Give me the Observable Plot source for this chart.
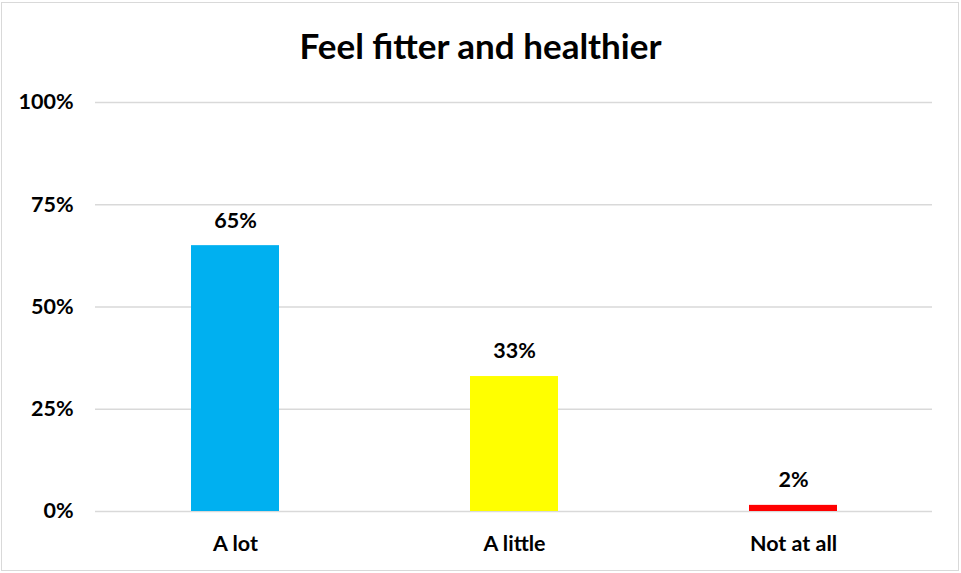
<!DOCTYPE html>
<html>
<head>
<meta charset="utf-8">
<script src="https://cdn.jsdelivr.net/npm/d3@7"></script>
<script src="https://cdn.jsdelivr.net/npm/@observablehq/plot@0.6"></script>
<style>
  html, body { margin: 0; padding: 0; background: #fff; }
  #wrap { position: relative; width: 961px; height: 573px; overflow: hidden; font-family: Lato, "Open Sans", sans-serif; }
  #frame { position: absolute; left: 1px; top: 2px; width: 958px; height: 569px; border: 1px solid #d9d9d9; box-sizing: border-box; }
  #title { position: absolute; left: 0; width: 961px; top: 24px; text-align: center; font-size: 35px; line-height: 1.2; font-weight: bold; color: #000; }
  #chart { position: absolute; left: 0; top: 0; }
</style>
</head>
<body>
<div id="wrap">
  <div id="frame"></div>
  <div id="title">Feel fitter and healthier</div>
  <div id="chart"></div>
</div>
<script>
const categories = ["A lot", "A little", "Not at all"];
const values = [65, 33, 1.5];
const valueLabels = ["65%", "33%", "2%"];
const barColors = ["#00B0F0", "#FFFF00", "#FF0000"];
const yTicks = [0, 25, 50, 75, 100];

const data = categories.map((c, i) => ({category: c, value: values[i], label: valueLabels[i], color: barColors[i]}));

const chart = Plot.plot({
  width: 961,
  height: 573,
  marginLeft: 95,
  marginRight: 29,
  marginTop: 102,
  marginBottom: 62,
  style: {fontFamily: "Lato, 'Open Sans', sans-serif", fontSize: "21.5px", fontWeight: "bold", color: "#000", background: "transparent"},
  x: {domain: categories, paddingInner: 0.685, paddingOuter: 0.3425, label: null, tickSize: 0, tickPadding: 24},
  y: {domain: [0, 100], ticks: yTicks, tickFormat: d => d + "%", label: null, tickSize: 0, tickPadding: 22},
  marks: [
    Plot.ruleY(yTicks, {stroke: "#d9d9d9", strokeWidth: 1.5}),
    Plot.barY(data, {x: "category", y: "value", fill: "color"}),
    Plot.text(data, {x: "category", y: "value", text: "label", dy: -25, fill: "#000", fontSize: 21.5, fontWeight: "bold"})
  ]
});
document.getElementById("chart").appendChild(chart);
</script>
</body>
</html>
